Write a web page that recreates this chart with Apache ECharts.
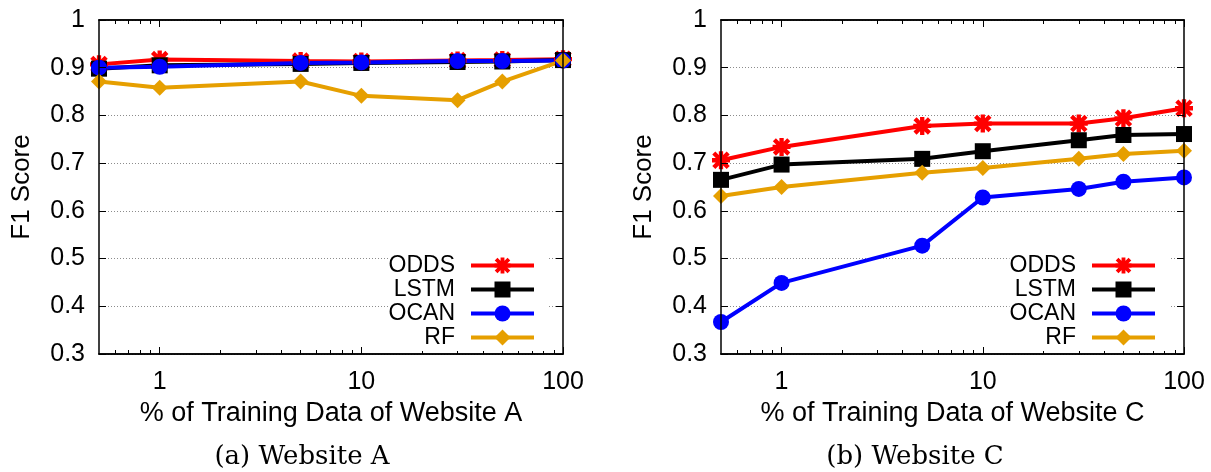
<!DOCTYPE html>
<html>
<head>
<meta charset="utf-8">
<script src="https://cdn.jsdelivr.net/npm/echarts@6/dist/echarts.min.js"></script>
<style>
html,body{margin:0;padding:0;background:#fff;}
#chart{width:1211px;height:472px;}
</style>
</head>
<body>
<div id="chart"></div>
<script>
// ---- data ----
const xValues = [0.5, 1, 5, 10, 30, 50, 100];
const seriesNames = ['ODDS', 'LSTM', 'OCAN', 'RF'];

const siteA_ODDS = [0.907, 0.917, 0.914, 0.913, 0.915, 0.916, 0.918];
const siteA_LSTM = [0.898, 0.905, 0.908, 0.910, 0.912, 0.913, 0.916];
const siteA_OCAN = [0.900, 0.902, 0.910, 0.911, 0.914, 0.914, 0.915];
const siteA_RF   = [0.871, 0.858, 0.871, 0.841, 0.832, 0.871, 0.915];

const siteC_ODDS = [0.706, 0.734, 0.778, 0.783, 0.783, 0.794, 0.815];
const siteC_LSTM = [0.665, 0.697, 0.709, 0.725, 0.748, 0.759, 0.761];
const siteC_OCAN = [0.367, 0.449, 0.527, 0.628, 0.646, 0.661, 0.670];
const siteC_RF   = [0.631, 0.650, 0.680, 0.690, 0.709, 0.719, 0.726];

const xMajorTicks = [1, 10, 100];
const xMinorTicks = [0.6, 0.7, 0.8, 0.9, 2, 3, 4, 5, 6, 7, 8, 9, 20, 30, 40, 50, 60, 70, 80, 90];
const xMin = 0.5, xMax = 100;
const yMin = 0.3, yMax = 1, yStep = 0.1;

const xTitles = ['% of Training Data of Website A', '% of Training Data of Website C'];
const yTitle = 'F1 Score';
const captions = ['(a) Website A', '(b) Website C'];

// ---- styling ----
const SANS = 'Liberation Sans, Arial, Helvetica, sans-serif';
const SERIF = 'DejaVu Serif, serif';
const colors = { ODDS: '#ff0000', LSTM: '#000000', OCAN: '#0000ff', RF: '#e69f00' };
const asterisk = 'path://M7.6 0H12.4V20H7.6Z M0 7.6H20V12.4H0Z M0.3 3.7L3.7 0.3L19.7 16.3L16.3 19.7Z M16.3 0.3L19.7 3.7L3.7 19.7L0.3 16.3Z';
const symbols = { ODDS: asterisk, LSTM: 'rect', OCAN: 'circle', RF: 'diamond' };
const symbolSizes = { ODDS: 18, LSTM: 16, OCAN: 16, RF: 16 };

const lg = v => Math.log10(v);

function xAxesFor(grid, title) {
  const base = {
    type: 'value', gridIndex: grid, min: lg(xMin), max: lg(xMax), z: 3,
    splitLine: { show: false },
    axisLine: { show: true, onZero: false, lineStyle: { color: '#000', width: 1.5 } }
  };
  return [
    Object.assign({}, base, {
      position: 'bottom',
      name: title, nameLocation: 'middle', nameGap: 42,
      nameTextStyle: { fontSize: 27, fontFamily: SANS, color: '#000' },
      axisTick: { show: true, inside: true, length: 7, customValues: xMajorTicks.map(lg), lineStyle: { color: '#000', width: 1 } },
      axisLabel: { show: true, customValues: xMajorTicks.map(lg), formatter: v => String(Math.round(Math.pow(10, v))),
                   fontSize: 25, fontFamily: SANS, color: '#000', margin: 16 }
    }),
    Object.assign({}, base, {
      position: 'bottom',
      axisTick: { show: true, inside: true, length: 4, customValues: xMinorTicks.map(lg), lineStyle: { color: '#000', width: 1 } },
      axisLabel: { show: false }
    }),
    Object.assign({}, base, {
      position: 'top',
      axisTick: { show: true, inside: true, length: 7, customValues: xMajorTicks.map(lg), lineStyle: { color: '#000', width: 1 } },
      axisLabel: { show: false }
    }),
    Object.assign({}, base, {
      position: 'top',
      axisTick: { show: true, inside: true, length: 4, customValues: xMinorTicks.map(lg), lineStyle: { color: '#000', width: 1 } },
      axisLabel: { show: false }
    })
  ];
}

function yAxesFor(grid) {
  const base = { type: 'value', gridIndex: grid, min: yMin, max: yMax, interval: yStep };
  return [
    Object.assign({}, base, {
      position: 'left', z: 3,
      name: yTitle, nameLocation: 'middle', nameGap: 64,
      nameTextStyle: { fontSize: 26, fontFamily: SANS, color: '#000' },
      axisLine: { show: true, onZero: false, lineStyle: { color: '#000', width: 1.5 } },
      axisTick: { show: true, inside: true, length: 7, lineStyle: { color: '#000', width: 1 } },
      axisLabel: { show: true, fontSize: 25, fontFamily: SANS, color: '#000', margin: 14 },
      splitLine: { show: false }
    }),
    Object.assign({}, base, {
      position: 'right', z: 3,
      axisLine: { show: true, onZero: false, lineStyle: { color: '#000', width: 1.5 } },
      axisTick: { show: true, inside: true, length: 7, lineStyle: { color: '#000', width: 1 } },
      axisLabel: { show: false },
      splitLine: { show: false }
    }),
    Object.assign({}, base, {
      position: 'left', z: 0,
      axisLine: { show: false }, axisTick: { show: false }, axisLabel: { show: false },
      splitLine: { show: true, lineStyle: { color: '#8c8c8c', width: 1, type: [1, 2] } }
    })
  ];
}

function makeSeries(grid, name, values) {
  return {
    type: 'line', name: name,
    xAxisIndex: grid * 4, yAxisIndex: grid * 3,
    data: xValues.map((x, i) => [lg(x), values[i]]),
    symbol: symbols[name], symbolSize: symbolSizes[name], showAllSymbol: true,
    clip: false,
    color: colors[name],
    itemStyle: { color: colors[name] },
    lineStyle: { color: colors[name], width: 4 },
    z: 2
  };
}

function legendFor(right) {
  return {
    data: seriesNames, orient: 'vertical', align: 'right', right: right, top: 252,
    itemWidth: 63, itemHeight: 20, itemGap: 1,
    backgroundColor: '#ffffff', padding: [2, 12, 2, 0], selectedMode: false,
    lineStyle: { width: 4 },
    textStyle: { fontSize: 23, lineHeight: 20, fontFamily: SANS, color: '#000', padding: [0, 11, 0, 0] }
  };
}

const dataA = { ODDS: siteA_ODDS, LSTM: siteA_LSTM, OCAN: siteA_OCAN, RF: siteA_RF };
const dataC = { ODDS: siteC_ODDS, LSTM: siteC_LSTM, OCAN: siteC_OCAN, RF: siteC_RF };

const option = {
  animation: false,
  backgroundColor: '#ffffff',
  grid: [
    { left: 99, right: 648, top: 20, bottom: 118 },
    { left: 721, right: 27, top: 20, bottom: 118 }
  ],
  xAxis: xAxesFor(0, xTitles[0]).concat(xAxesFor(1, xTitles[1])),
  yAxis: yAxesFor(0).concat(yAxesFor(1)),
  legend: [legendFor(663), legendFor(42)],
  series: seriesNames.map(n => makeSeries(0, n, dataA[n]))
          .concat(seriesNames.map(n => makeSeries(1, n, dataC[n]))),
  graphic: [
    { type: 'text', x: 302, y: 457, style: { text: captions[0], fontSize: 26, fontFamily: SERIF, fill: '#000', align: 'center', verticalAlign: 'middle' } },
    { type: 'text', x: 915, y: 457, style: { text: captions[1], fontSize: 26, fontFamily: SERIF, fill: '#000', align: 'center', verticalAlign: 'middle' } }
  ]
};

const chart = echarts.init(document.getElementById('chart'), null, { renderer: 'canvas' });
chart.setOption(option);
</script>
</body>
</html>
